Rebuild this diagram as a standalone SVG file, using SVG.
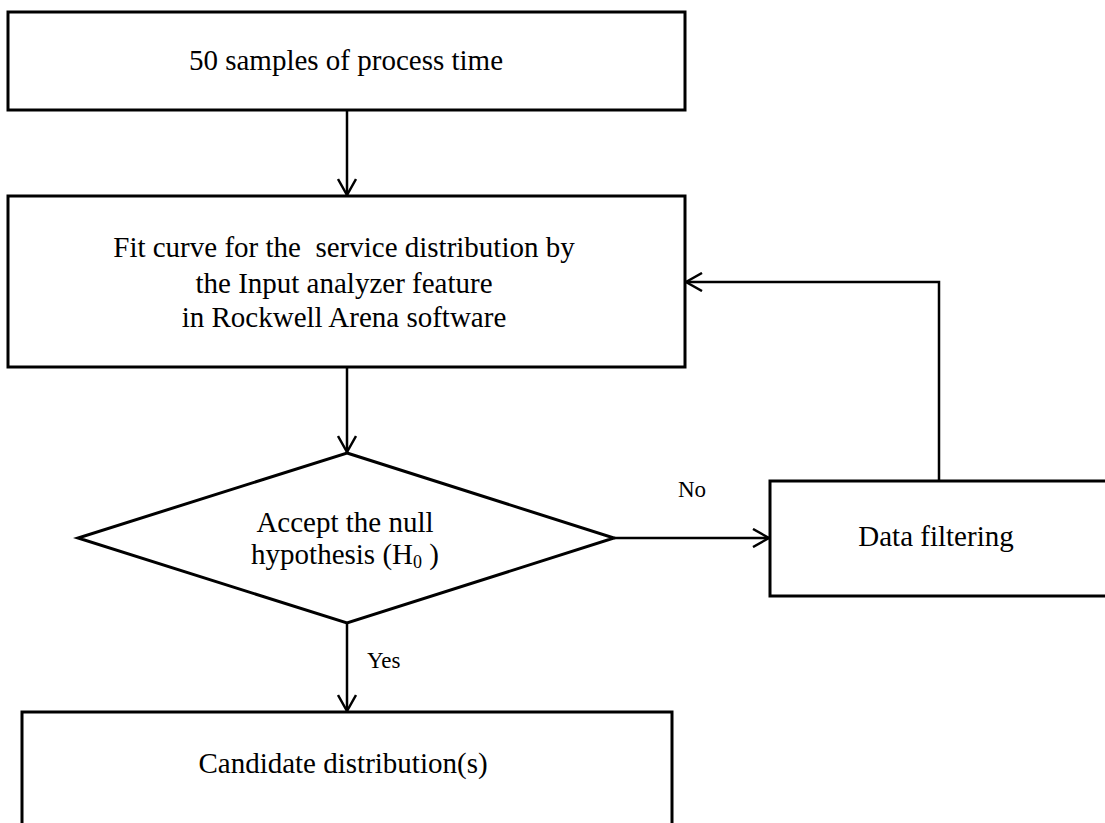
<svg xmlns="http://www.w3.org/2000/svg" width="1105" height="823" viewBox="0 0 1105 823">
<style>
.box{fill:#fff;stroke:#000;stroke-width:3}
.t{font-family:"Liberation Serif","Times New Roman",serif;font-size:29px;fill:#000;text-anchor:middle}
.lbl{font-family:"Liberation Serif","Times New Roman",serif;font-size:23px;fill:#000}
.c{fill:none;stroke:#000;stroke-width:2.5}
</style>
<defs>
<marker id="arr" markerUnits="userSpaceOnUse" markerWidth="20" markerHeight="20" viewBox="0 0 20 20" refX="18" refY="10" orient="auto">
<path d="M2,1 L18,10 L2,19" fill="none" stroke="#000" stroke-width="2.5"/>
</marker>
</defs>
<rect width="1105" height="823" fill="#fff"/>
<g id="n1">
<rect class="box" x="8" y="12" width="677" height="98"/>
<text class="t" x="346" y="70">50 samples of process time</text>
</g>
<g id="n2">
<rect class="box" x="8" y="196" width="677" height="171"/>
<text class="t" x="344" y="257" xml:space="preserve">Fit curve for the  service distribution by</text>
<text class="t" x="344" y="293">the Input analyzer feature</text>
<text class="t" x="344" y="327">in Rockwell Arena software</text>
</g>
<g id="n3">
<polygon class="box" points="347,453 614,538 347,623 78,538"/>
<text class="t" x="345" y="532">Accept the null</text>
<text class="t" x="345" y="564">hypothesis (H<tspan font-size="18" dy="4">0</tspan><tspan dy="-4"> )</tspan></text>
</g>
<g id="n4">
<rect class="box" x="770" y="481" width="345" height="115"/>
<text class="t" x="936" y="546">Data filtering</text>
</g>
<g id="n5">
<rect class="box" x="22" y="712" width="650" height="130"/>
<text class="t" x="343" y="773">Candidate distribution(s)</text>
</g>
<g id="connectors">
<line class="c" x1="347" y1="110" x2="347" y2="195" marker-end="url(#arr)"/>
<line class="c" x1="347" y1="367" x2="347" y2="452" marker-end="url(#arr)"/>
<line class="c" x1="614" y1="538" x2="769" y2="538" marker-end="url(#arr)"/>
<polyline class="c" points="939,481 939,282 686,282" marker-end="url(#arr)"/>
<line class="c" x1="347" y1="623" x2="347" y2="711" marker-end="url(#arr)"/>
<text class="lbl" x="678" y="497">No</text>
<text class="lbl" x="367" y="668">Yes</text>
</g>
</svg>
